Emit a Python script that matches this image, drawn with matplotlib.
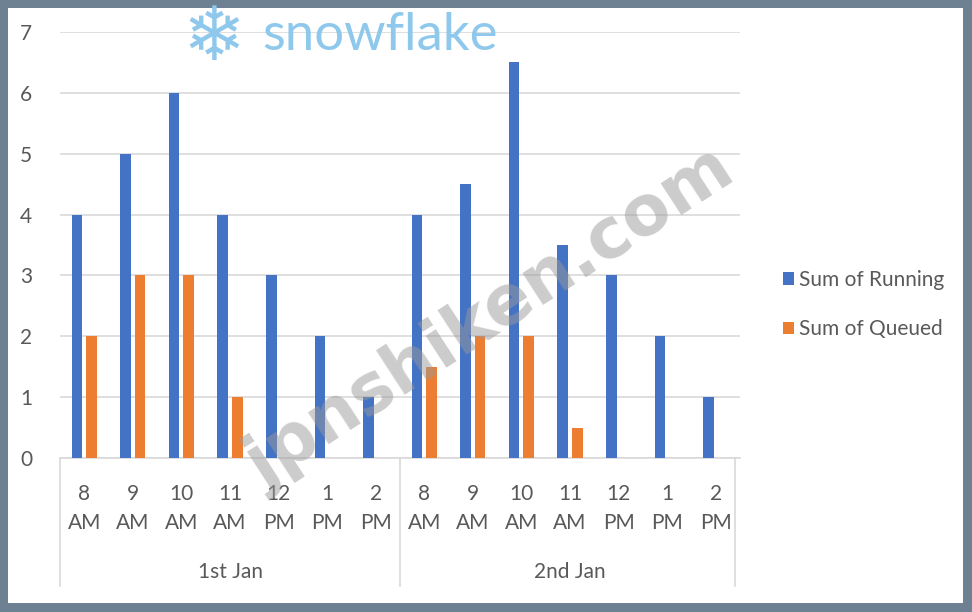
import matplotlib
matplotlib.use("Agg")
import matplotlib.pyplot as plt
from matplotlib.patches import Rectangle
import matplotlib.transforms as mtransforms
import numpy as np

# ---- data ----
hours = ["8\nAM", "9\nAM", "10\nAM", "11\nAM", "12\nPM", "1\nPM", "2\nPM"]
days = ["1st Jan", "2nd Jan"]
running_day1 = [4, 5, 6, 4, 3, 2, 1]
queued_day1 = [2, 3, 3, 1, 0, 0, 0]
running_day2 = [4, 4.5, 6.5, 3.5, 3, 2, 1]
queued_day2 = [1.5, 2, 2, 0.5, 0, 0, 0]
series_names = ["Sum of Running", "Sum of Queued"]
yticks = [0, 1, 2, 3, 4, 5, 6, 7]

BLUE = "#4472C4"
ORANGE = "#ED7D31"
TXT = "#595959"
FONT = ["Lato", "DejaVu Sans"]

running = running_day1 + running_day2
queued = queued_day1 + queued_day2
labels = hours + hours
x = np.arange(len(labels))

fig = plt.figure(figsize=(9.72, 6.12), dpi=100)
fig.patch.set_facecolor("#6e8192")
fig.patches.append(Rectangle((8 / 972, 9 / 612), 955 / 972, 595 / 612,
                             transform=fig.transFigure, facecolor="white",
                             edgecolor="none", zorder=-5))

ax = fig.add_axes([60 / 972, 154 / 612, 680 / 972, 426 / 612])
ax.set_facecolor("none")

w = 0.215
off = 0.15
ax.bar(x - off, running, width=w, color=BLUE, label=series_names[0], zorder=3)
ax.bar(x + off, queued, width=w, color=ORANGE, label=series_names[1], zorder=3)

ax.set_xlim(-0.5, len(labels) - 0.5)
ax.set_ylim(0, 7)
ax.set_yticks(yticks)
ax.set_yticklabels([str(v) for v in yticks], fontsize=15, color=TXT, family=FONT)
ax.yaxis.grid(True, color="#d9d9d9", linewidth=1.2, zorder=0)
ax.tick_params(axis="y", length=0, pad=20)
ax.tick_params(axis="x", length=0, pad=19)
ax.set_xticks(x)
ax.set_xticklabels(labels, fontsize=15, color=TXT, family=FONT, linespacing=1.55)
for s in ["top", "right", "left"]:
    ax.spines[s].set_visible(False)
ax.spines["bottom"].set_color("#d9d9d9")
ax.spines["bottom"].set_linewidth(1.2)

trans = mtransforms.blended_transform_factory(ax.transData, ax.transAxes)
for xs in [-0.5, 6.5, 13.4]:
    ax.plot([xs, xs], [0, -0.30], transform=trans, color="#d9d9d9",
            linewidth=1.2, clip_on=False)
for i, d in enumerate(days):
    ax.text(3 + 7 * i, -0.268, d, transform=trans, ha="center", va="center",
            fontsize=15, color=TXT, family=FONT)

leg = ax.legend(loc="center left", bbox_to_anchor=(1.035, 0.36), frameon=False,
                prop={"family": FONT, "size": 15}, handlelength=0.55,
                handleheight=0.55, handletextpad=0.25, labelspacing=1.4)
for t in leg.get_texts():
    t.set_color(TXT)

# watermarks
fig.text(214 / 972, 1 - 40 / 612, "\u2744", fontsize=54, color="#8ec8ec",
         ha="center", va="center", family="DejaVu Sans", zorder=10)
fig.text(262 / 972, 1 - 36 / 612, "snowflake", fontsize=38, color="#8ec8ec",
         ha="left", va="center", family=["Lato", "DejaVu Sans"], zorder=10)
fig.text(490 / 972, 1 - 318 / 612, "jpnshiken.com", fontsize=50, color="#9a9a9a",
         alpha=0.5, fontweight="bold", rotation=33, ha="center", va="center",
         family="DejaVu Sans", zorder=10)

fig.savefig("out.png", dpi=100, facecolor=fig.get_facecolor())
